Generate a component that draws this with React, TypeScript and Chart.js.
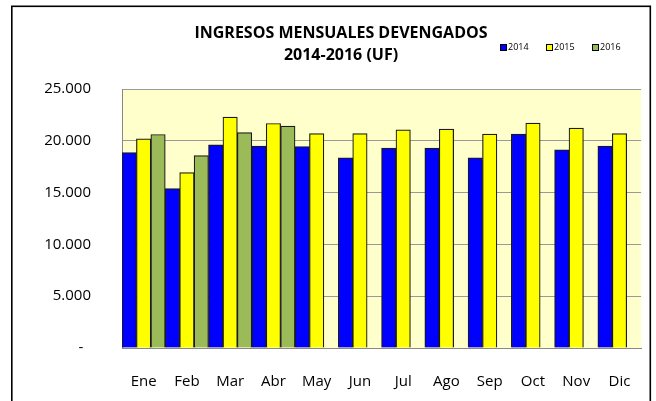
import React, { useEffect, useRef } from "react";
import { Chart, registerables } from "chart.js";

Chart.register(...registerables);

const months = ["Ene", "Feb", "Mar", "Abr", "May", "Jun", "Jul", "Ago", "Sep", "Oct", "Nov", "Dic"];
const seriesNames = ["2014", "2015", "2016"];
const values2014 = [18870, 15380, 19610, 19480, 19450, 18350, 19290, 19290, 18350, 20650, 19130, 19480];
const values2015 = [20190, 16930, 22290, 21670, 20700, 20700, 21060, 21130, 20650, 21710, 21230, 20700];
const values2016 = [20610, 18580, 20800, 21420, null, null, null, null, null, null, null, null];
const titleLines = ["INGRESOS MENSUALES DEVENGADOS", "2014-2016 (UF)"];
const colors = ["#0000FF", "#FFFF00", "#9BBB59"];

const FONT = "'Open Sans', sans-serif";

const decor = {
  id: "decor",
  beforeDraw(chart: any) {
    const { ctx, chartArea } = chart;
    ctx.save();
    ctx.fillStyle = "#FFFFCC";
    ctx.fillRect(chartArea.left, chartArea.top, chartArea.right - chartArea.left, chartArea.bottom - chartArea.top);
    ctx.restore();
  },
  afterDraw(chart: any) {
    const { ctx } = chart;
    ctx.save();
    // title
    ctx.fillStyle = "#000";
    ctx.font = `bold 16px ${FONT}`;
    ctx.textAlign = "center";
    ctx.textBaseline = "middle";
    ctx.fillText(titleLines[0], 341, 33);
    ctx.fillText(titleLines[1], 341, 55);
    // legend
    ctx.font = `9px ${FONT}`;
    ctx.textAlign = "left";
    chart.data.datasets.forEach((ds: any, i: number) => {
      const x = 500 + i * 46;
      const y = 47;
      ctx.fillStyle = ds.backgroundColor;
      ctx.fillRect(x, y - 3, 6, 6);
      ctx.strokeStyle = "#000";
      ctx.lineWidth = 1;
      ctx.strokeRect(x + 0.5, y - 2.5, 6, 6);
      ctx.fillStyle = "#000";
      ctx.fillText(ds.label, x + 8, y + 0.5);
    });
    // outer border
    ctx.strokeStyle = "#000";
    ctx.lineWidth = 1.6;
    ctx.strokeRect(11.8, 6.3, 638.5, 400);
    ctx.restore();
  },
};

export default function App() {
  const ref = useRef<HTMLCanvasElement>(null);
  useEffect(() => {
    const chart = new Chart(ref.current as HTMLCanvasElement, {
      type: "bar",
      data: {
        labels: months,
        datasets: [values2014, values2015, values2016].map((vals, i) => ({
          label: seriesNames[i],
          data: vals,
          backgroundColor: colors[i],
          borderColor: "#1a1a1a",
          borderWidth: 1.2,
          categoryPercentage: 1,
          barPercentage: 1,
        })),
      },
      options: {
        responsive: false,
        animation: false,
        devicePixelRatio: 1,
        layout: { padding: { top: 89, right: 14, left: 0, bottom: 0 } },
        plugins: {
          legend: { display: false },
          title: { display: false },
          tooltip: { enabled: false },
        },
        scales: {
          x: {
            grid: { display: false, drawTicks: false },
            border: { display: true, color: "#888", width: 1 },
            ticks: { font: { family: FONT, size: 15 }, color: "#000", padding: 25 },
            afterFit(scale: any) {
              scale.height = 53;
            },
          },
          y: {
            min: 0,
            max: 25000,
            grid: { color: "#999", lineWidth: 1, drawTicks: false },
            border: { display: true, color: "#888", width: 1 },
            ticks: {
              stepSize: 5000,
              font: { family: FONT, size: 15 },
              color: "#000",
              padding: 31,
              callback: (v: any) => (v === 0 ? "-  " : Number(v).toLocaleString("de-DE")),
            },
            afterFit(scale: any) {
              scale.width = 122;
            },
          },
        },
      },
      plugins: [decor],
    } as any);
    return () => chart.destroy();
  }, []);
  return (
    <div style={{ position: "absolute", left: 0, top: 0, width: 656, height: 401, background: "#fff" }}>
      <canvas ref={ref} width={656} height={401} />
    </div>
  );
}
